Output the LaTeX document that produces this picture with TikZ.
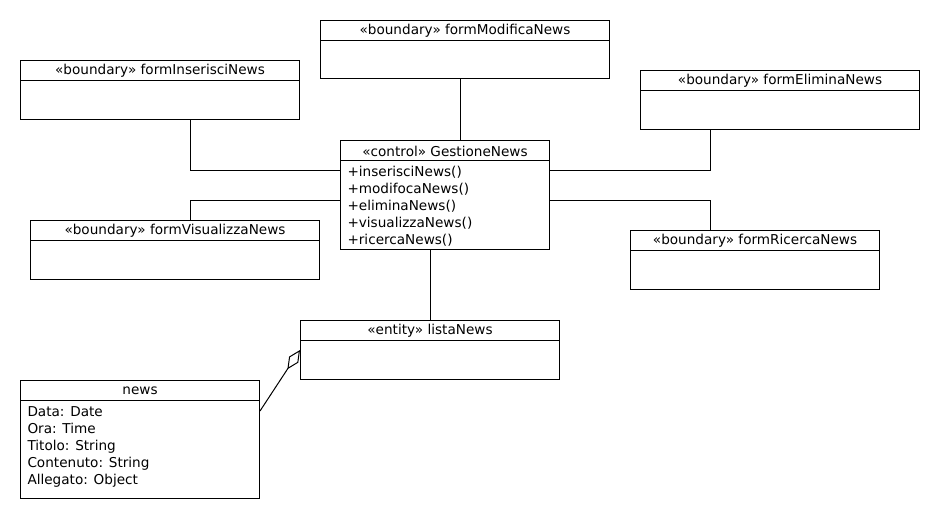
\documentclass[tikz,border=0pt]{standalone}
\usepackage{fontspec}
\setmainfont{DejaVu Sans}
\usetikzlibrary{arrows.meta}
\tikzset{
  classbox/.style={draw, anchor=north west, inner sep=0pt},
  classtitle/.style={inner sep=0pt},
  classbody/.style={inner sep=0pt, anchor=north west, align=left},
}
\begin{document}
\begin{tikzpicture}[x=1pt, y=-1pt, line width=1pt, font=\fontsize{13.6}{17}\selectfont]
	\useasboundingbox (0,0) rectangle (940,520);
	% boundary
	\node[classbox, minimum width=289pt, minimum height=58pt] (modifica) at (320,20) {};
	\node[classtitle] (modificaT) at ([yshift=-11pt]modifica.north) {«boundary» formModificaNews};
	\draw ([yshift=-20pt]modifica.north west) -- ([yshift=-20pt]modifica.north east);
	\node[classbox, minimum width=279pt, minimum height=59pt] (inserisci) at (20,60) {};
	\node[classtitle] (inserisciT) at ([yshift=-11pt]inserisci.north) {«boundary» formInserisciNews};
	\draw ([yshift=-20pt]inserisci.north west) -- ([yshift=-20pt]inserisci.north east);
	\node[classbox, minimum width=279pt, minimum height=59pt] (elimina) at (640,70) {};
	\node[classtitle] (eliminaT) at ([yshift=-11pt]elimina.north) {«boundary» formEliminaNews};
	\draw ([yshift=-20pt]elimina.north west) -- ([yshift=-20pt]elimina.north east);
	\node[classbox, minimum width=289pt, minimum height=59pt] (visualizza) at (30,220) {};
	\node[classtitle] (visualizzaT) at ([yshift=-11pt]visualizza.north) {«boundary» formVisualizzaNews};
	\draw ([yshift=-20pt]visualizza.north west) -- ([yshift=-20pt]visualizza.north east);
	\node[classbox, minimum width=249pt, minimum height=59pt] (ricerca) at (630,230) {};
	\node[classtitle] (ricercaT) at ([yshift=-11pt]ricerca.north) {«boundary» formRicercaNews};
	\draw ([yshift=-20pt]ricerca.north west) -- ([yshift=-20pt]ricerca.north east);
	% control
	\node[classbox, minimum width=209pt, minimum height=109pt] (gestione) at (340,140) {};
	\node[classtitle] (gestioneT) at ([yshift=-11pt]gestione.north) {«control» GestioneNews};
	\draw ([yshift=-20pt]gestione.north west) -- ([yshift=-20pt]gestione.north east);
	\node[classbody] (gestioneB) at (347,166) {+inserisciNews()\\+modifocaNews()\\+eliminaNews()\\+visualizzaNews()\\+ricercaNews()};
	% entity
	\node[classbox, minimum width=259pt, minimum height=59pt] (lista) at (300,320) {};
	\node[classtitle] (listaT) at ([yshift=-11pt]lista.north) {«entity» listaNews};
	\draw ([yshift=-20pt]lista.north west) -- ([yshift=-20pt]lista.north east);
	\node[classbox, minimum width=239pt, minimum height=118pt] (news) at (20,380) {};
	\node[classtitle] (newsT) at ([yshift=-11pt]news.north) {news};
	\draw ([yshift=-20pt]news.north west) -- ([yshift=-20pt]news.north east);
	\node[classbody] (newsB) at (27,406) {Data: Date\\Ora: Time\\Titolo: String\\Contenuto: String\\Allegato: Object};
	% associazioni
	\draw (modifica.south -| 460,0) -- (gestione.north -| 460,0);
	\draw (inserisci.south -| 190,0) |- (gestione.west |- 0,170);
	\draw (elimina.south -| 710,0) |- (gestione.east |- 0,170);
	\draw (visualizza.north -| 190,0) |- (gestione.west |- 0,200);
	\draw (ricerca.north -| 710,0) |- (gestione.east |- 0,200);
	\draw (gestione.south -| 430,0) -- (lista.north -| 430,0);
	\draw[-{Diamond[open,length=23pt,width=11pt]}] (news.east |- 0,411) -- (lista.west |- 0,350);
\end{tikzpicture}
\end{document}
